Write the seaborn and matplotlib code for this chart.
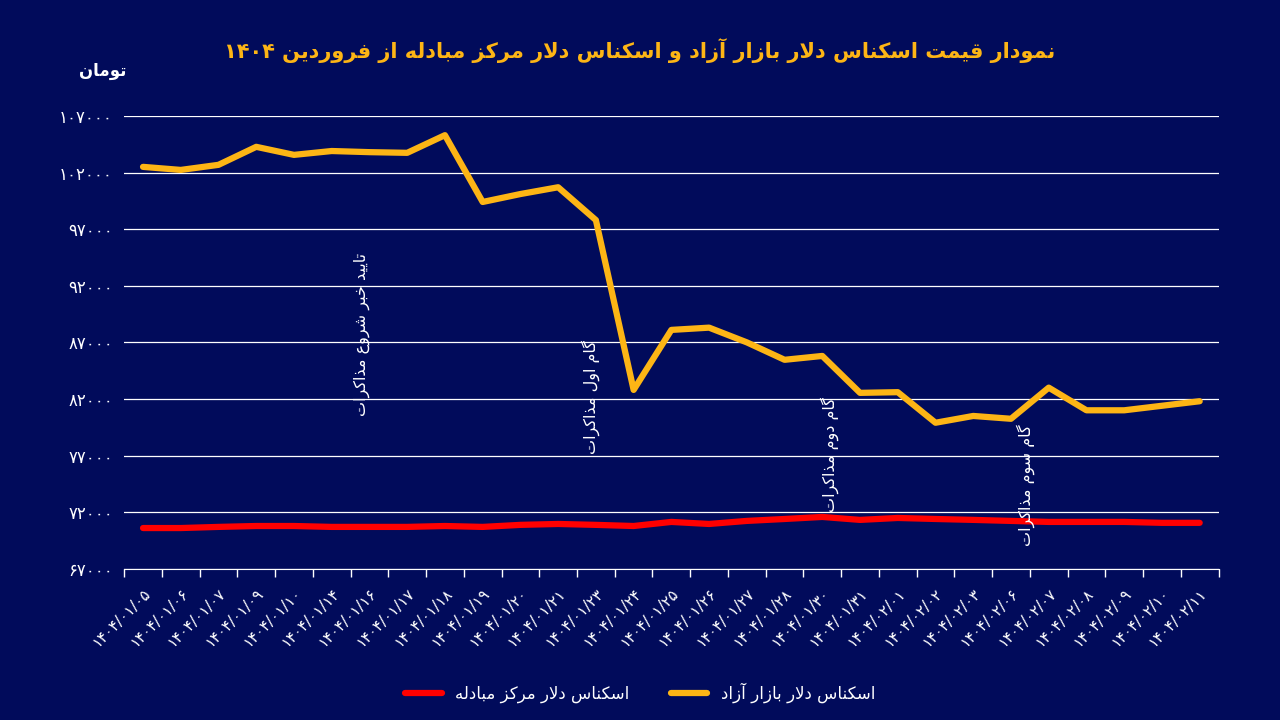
import matplotlib
matplotlib.use("Agg")
import matplotlib.pyplot as plt
import seaborn as sns
import pandas as pd
import numpy as np
from matplotlib.ticker import FixedLocator

dates = ["1404/01/05","1404/01/06","1404/01/07","1404/01/09","1404/01/10","1404/01/14","1404/01/16",
         "1404/01/17","1404/01/18","1404/01/19","1404/01/20","1404/01/21","1404/01/23","1404/01/24",
         "1404/01/25","1404/01/26","1404/01/27","1404/01/28","1404/01/30","1404/01/31","1404/02/01",
         "1404/02/02","1404/02/03","1404/02/06","1404/02/07","1404/02/08","1404/02/09","1404/02/10","1404/02/11"]
free_market = [102500,102230,102680,104270,103560,103900,103800,103740,105300,99400,100100,100700,97800,
               82800,88100,88300,87000,85460,85800,82540,82600,79900,80500,80250,83000,81000,81000,81400,81800]
exchange_center = [70600,70600,70700,70780,70780,70700,70700,70700,70780,70700,70880,70960,70880,70780,
                   71140,70960,71230,71400,71580,71320,71490,71400,71320,71230,71140,71140,71140,71060,71060]
y_ticks = [67000,72000,77000,82000,87000,92000,97000,102000,107000]
annotations = [(5.8, 87660, "تایید خبر شروع مذاکرات"), (11.85, 82200, "گام اول مذاکرات"),
               (18.2, 77070, "گام دوم مذاکرات"), (23.4, 74400, "گام سوم مذاکرات")]
title = "نمودار قیمت اسکناس دلار بازار آزاد و اسکناس دلار مرکز مبادله از فروردین ۱۴۰۴"
unit = "تومان"
series_names = ["اسکناس دلار مرکز مبادله", "اسکناس دلار بازار آزاد"]

# --- minimal Persian shaping using presentation forms ---
FORMS = {
    'ا': (0xFE8D, 0xFE8E, None, None), 'آ': (0xFE81, 0xFE82, None, None),
    'ب': (0xFE8F, 0xFE90, 0xFE91, 0xFE92), 'ت': (0xFE95, 0xFE96, 0xFE97, 0xFE98),
    'خ': (0xFEA5, 0xFEA6, 0xFEA7, 0xFEA8), 'د': (0xFEA9, 0xFEAA, None, None),
    'ذ': (0xFEAB, 0xFEAC, None, None), 'ر': (0xFEAD, 0xFEAE, None, None),
    'ز': (0xFEAF, 0xFEB0, None, None), 'س': (0xFEB1, 0xFEB2, 0xFEB3, 0xFEB4),
    'ش': (0xFEB5, 0xFEB6, 0xFEB7, 0xFEB8), 'ع': (0xFEC9, 0xFECA, 0xFECB, 0xFECC),
    'ف': (0xFED1, 0xFED2, 0xFED3, 0xFED4), 'ق': (0xFED5, 0xFED6, 0xFED7, 0xFED8),
    'ل': (0xFEDD, 0xFEDE, 0xFEDF, 0xFEE0), 'م': (0xFEE1, 0xFEE2, 0xFEE3, 0xFEE4),
    'ن': (0xFEE5, 0xFEE6, 0xFEE7, 0xFEE8), 'ه': (0xFEE9, 0xFEEA, 0xFEEB, 0xFEEC),
    'و': (0xFEED, 0xFEEE, None, None), 'ک': (0xFB8E, 0xFB8F, 0xFB90, 0xFB91),
    'گ': (0xFB92, 0xFB93, 0xFB94, 0xFB95), 'ی': (0xFBFC, 0xFBFD, 0xFBFE, 0xFBFF),
    'ي': (0xFEF1, 0xFEF2, 0xFEF3, 0xFEF4),
}
LAMALEF = {'ا': (0xFEFB, 0xFEFC), 'آ': (0xFEF5, 0xFEF6)}

def dual(c):
    return c in FORMS and FORMS[c][2] is not None

def shape_word(w):
    chars = list(w)
    out = []
    i = 0
    while i < len(chars):
        c = chars[i]
        prev_join = i > 0 and dual(chars[i-1]) and c in FORMS
        if c == 'ل' and i + 1 < len(chars) and chars[i+1] in LAMALEF:
            f = LAMALEF[chars[i+1]]
            out.append(chr(f[1] if prev_join else f[0]))
            i += 2
            continue
        if c not in FORMS:
            out.append(c); i += 1; continue
        nxt = chars[i+1] if i + 1 < len(chars) else None
        next_join = dual(c) and nxt is not None and nxt in FORMS
        iso, fin, ini, med = FORMS[c]
        if prev_join and next_join: g = med
        elif prev_join: g = fin
        elif next_join: g = ini
        else: g = iso
        out.append(chr(g)); i += 1
    return ''.join(out)

def fa(s):
    words = s.split(' ')
    res = []
    for w in words:
        if any(ch in FORMS for ch in w):
            res.append(shape_word(w)[::-1])
        else:
            res.append(w)
    return ' '.join(res[::-1])

PD = str.maketrans("0123456789", "۰۱۲۳۴۵۶۷۸۹")
def pdig(s):
    return str(s).translate(PD)

BG = "#010B5B"
YEL = "#FDB515"
RED = "#FF0000"
plt.rcParams["font.family"] = "DejaVu Sans"

df = pd.DataFrame({"date": dates * 2,
                   "value": free_market + exchange_center,
                   "series": [series_names[1]] * len(dates) + [series_names[0]] * len(dates)})
df["x"] = list(range(len(dates))) * 2

fig = plt.figure(figsize=(12.8, 7.2), dpi=100, facecolor=BG)
ax = fig.add_axes([0.097, 0.21, 0.855, 0.629])
ax.set_facecolor(BG)

sns.lineplot(data=df[df.series == series_names[0]], x="x", y="value", color=RED, lw=4.5, ax=ax,
             label=fa(series_names[0]), solid_capstyle="round")
sns.lineplot(data=df[df.series == series_names[1]], x="x", y="value", color=YEL, lw=4.5, ax=ax,
             label=fa(series_names[1]), solid_capstyle="round")

ax.set_xlim(-0.5, len(dates) - 0.5)
ax.set_ylim(y_ticks[0], y_ticks[-1])
ax.set_yticks(y_ticks)
ax.set_yticklabels([pdig(v) for v in y_ticks], color="white", fontsize=12)
ax.set_xticks(range(len(dates)))
ax.set_xticklabels([pdig(d) for d in dates], rotation=45, ha="right", rotation_mode="anchor",
                   color="white", fontsize=11)
ax.xaxis.set_minor_locator(FixedLocator(np.arange(-0.5, len(dates), 1)))
ax.tick_params(axis="x", which="major", length=0, pad=12)
ax.tick_params(axis="x", which="minor", length=6, color="white", width=1)
ax.tick_params(axis="y", length=0, pad=8)
ax.grid(axis="y", color="white", lw=0.9)
ax.grid(axis="x", visible=False)
ax.set_axisbelow(True)
for s in ["top", "right", "left"]:
    ax.spines[s].set_visible(False)
ax.spines["bottom"].set_color("white")
ax.set_xlabel(""); ax.set_ylabel("")

for x, y, t in annotations:
    ax.text(x, y, fa(t), rotation=90, color="white", fontsize=11.5, ha="center", va="center")

fig.text(0.5, 0.93, fa(title), color=YEL, fontsize=15, fontweight="bold", ha="center", va="center")
fig.text(0.062, 0.902, fa(unit), color="white", fontsize=12, fontweight="bold", ha="left", va="center")

handles, labels = ax.get_legend_handles_labels()
ax.legend_.remove()
leg = fig.legend(handles, labels, loc="center", bbox_to_anchor=(0.5, 0.038), ncol=2, frameon=False,
                 fontsize=12, handlelength=2.2, columnspacing=2.5)
for t in leg.get_texts():
    t.set_color("white")

fig.savefig("out.png", dpi=100, facecolor=BG)
